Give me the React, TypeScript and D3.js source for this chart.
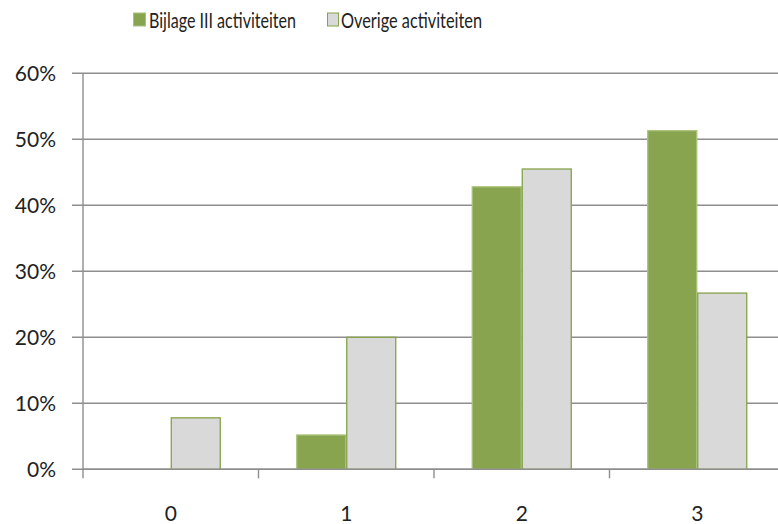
import React from "react";
import * as d3 from "d3";

const categories = ["0", "1", "2", "3"];
const seriesNames = ["Bijlage III activiteiten", "Overige activiteiten"];
const bijlageValues = [0, 5.2, 42.8, 51.3];
const overigeValues = [7.8, 20, 45.5, 26.7];
const yTicks = [0, 10, 20, 30, 40, 50, 60];

const W = 778;
const H = 524;
const FONT = "Lato, 'Open Sans', sans-serif";

export default function App() {
  const left = 83;
  const right = 785;
  const top = 73.3;
  const bottom = 469.3;

  const x = d3.scaleBand<string>().domain(categories).range([left, right]).paddingInner(0).paddingOuter(0);
  const y = d3.scaleLinear().domain([0, 60]).range([bottom, top]);

  const groupInner = 100;
  const innerX = d3
    .scaleBand<string>()
    .domain(seriesNames)
    .range([(x.bandwidth() - groupInner) / 2, (x.bandwidth() + groupInner) / 2]);

  const fills = ["#89A44F", "#D9D9D9"];
  const strokes = ["#A9C27A", "#86A24B"];
  const data = [bijlageValues, overigeValues];
  const txt = "#222";

  return (
    <div style={{ position: "fixed", left: 0, top: 0 }}>
      <svg width={W} height={H} style={{ display: "block", background: "#fff" }}>
        {yTicks.map((t) => (
          <line key={"g" + t} x1={72} x2={W} y1={y(t)} y2={y(t)} stroke="#8E8E8E" strokeWidth={1.4} />
        ))}
        {yTicks.map((t) => (
          <text key={"l" + t} x={56} y={y(t)} dy="0.36em" textAnchor="end" fontFamily={FONT} fontSize={21} fill={txt}>
            {t + "%"}
          </text>
        ))}
        {data.map((vals, si) =>
          vals.map((v, ci) => {
            if (v <= 0) return null;
            const bx = (x(categories[ci]) as number) + (innerX(seriesNames[si]) as number);
            return (
              <rect
                key={si + "-" + ci}
                x={bx + 0.5}
                y={y(v)}
                width={innerX.bandwidth() - 1}
                height={y(0) - y(v)}
                fill={fills[si]}
                stroke={strokes[si]}
                strokeWidth={1.3}
              />
            );
          })
        )}
        <line x1={left} x2={left} y1={top} y2={bottom + 9} stroke="#8E8E8E" strokeWidth={1.4} />
        <line x1={left} x2={W} y1={bottom} y2={bottom} stroke="#8E8E8E" strokeWidth={1.4} />
        {categories.map((c, i) =>
          i > 0 ? (
            <line key={"t" + c} x1={x(c) as number} x2={x(c) as number} y1={bottom} y2={bottom + 9} stroke="#8E8E8E" strokeWidth={1.4} />
          ) : null
        )}
        {categories.map((c) => (
          <text key={"x" + c} x={(x(c) as number) + x.bandwidth() / 2} y={513} dy="0.36em" textAnchor="middle" fontFamily={FONT} fontSize={21} fill={txt}>
            {c}
          </text>
        ))}
        <rect x={133.5} y={13} width={12} height={13} fill={fills[0]} stroke={strokes[0]} strokeWidth={1} />
        <text x={149} y={20} dy="0.36em" fontFamily={FONT} fontSize={21} fill={txt} textLength={147} lengthAdjust="spacingAndGlyphs">
          {seriesNames[0]}
        </text>
        <rect x={327.5} y={13} width={11} height={13} fill={fills[1]} stroke={strokes[1]} strokeWidth={1} />
        <text x={341} y={20} dy="0.36em" fontFamily={FONT} fontSize={21} fill={txt} textLength={141} lengthAdjust="spacingAndGlyphs">
          {seriesNames[1]}
        </text>
      </svg>
    </div>
  );
}
